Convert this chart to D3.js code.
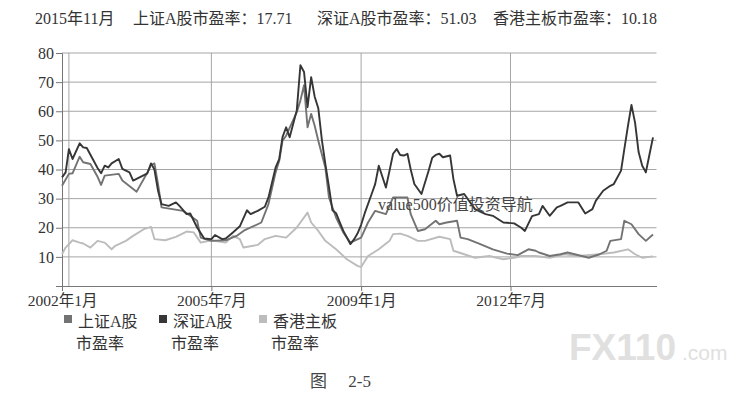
<!DOCTYPE html>
<html>
<head>
<meta charset="utf-8">
<script src="https://cdn.jsdelivr.net/npm/d3@7"></script>
<style>
  body { margin: 0; background: #fff; }
  text { font-family: "Liberation Serif", "Noto Sans CJK SC", serif; }
  text.mark { font-family: "Liberation Sans", Arial, sans-serif; }
</style>
</head>
<body>
<svg id="chart" width="754" height="401"></svg>
<script>
// months after 2002年1月
var shMonth = [0,2,3,5,6,8,10,11,12,16,17,21,24,25,26,27,28,31,34,36,38,39,42,46,49,51,52,56,58,60,61,62,63,66,67,68,69,70,71,72,74,75,77,79,81,84,86,88,91,93,97,98,100,102,105,106,108,111,112,114,117,121,125,128,131,133,134,137,140,142,144,148,151,153,154,157,158,160,162,164,166]
var shPE = [34.4,38.5,38.7,44.4,42.5,41.9,37.5,34.7,37.9,38.5,36.2,32.4,39,41.5,42.1,35,27,26.4,25.8,24.1,22.4,16.6,15.5,15.7,17.2,18.9,19.5,21.8,28.1,39,43,49.9,51.6,59.7,63.7,68.9,54.5,59.1,55,49.9,40.7,30.4,23.5,18.4,14.9,16.6,21.8,25.8,24.7,30.4,30.4,24.7,18.9,19.5,22.4,21.2,21.8,22.4,16.6,16.1,14.6,12.6,11.1,10.6,12.6,12.1,11.5,10.3,10.9,11.5,10.9,9.7,10.9,12.1,15.5,16.1,22.4,21.2,17.8,15.5,17.71]

var szMonth = [0,1,2,3,5,6,7,10,11,12,13,14,16,17,19,20,24,25,26,27,28,30,32,33,35,36,38,40,42,43,45,46,48,50,52,53,55,57,58,60,61,62,63,64,66,67,68,69,70,71,72,73,74,75,76,77,78,79,81,82,83,84,85,87,88,89,91,92,93,94,95,96,97,98,99,101,103,104,105,106,107,109,110,111,113,116,119,121,124,127,129,130,132,134,135,137,139,140,142,144,145,147,149,150,152,154,155,157,158,159,160,161,162,163,164,165,166]
var szPE = [37.3,39,47,43.6,49,47.6,47.4,40.5,38.7,41.3,40.7,42.1,43.6,40.2,39,36.2,38.7,42.1,40,32.7,28.1,27.5,28.7,27.5,24.7,24.9,20.1,16.3,16.1,17.5,16.1,16.3,18.4,20.5,26,24.7,25.8,27.2,30.4,40.7,43.6,51.1,54.5,51.1,60.3,75.8,73.5,61.4,71.7,65,61,50,41.9,34,26,25,22,19,14.4,16,18,21,25,31.6,35,41.3,33.8,39.6,45.4,47,45,44.8,45.4,40,35,31.6,39.6,44,45,45.4,44.2,44.8,36.7,31,31.6,26.4,24.7,24.1,21.8,21.5,20,18.9,24,24.7,27.5,24.1,27,27.5,28.7,28.7,28.7,24.9,26.4,29.3,32.7,34.4,35,39.6,47,55,62.2,56,46,41.3,39,45,51.03]

var hkMonth = [0,1,3,5,6,8,10,12,14,15,18,20,23,25,26,29,32,35,37,39,42,46,48,50,51,55,57,60,63,66,69,70,72,74,77,80,83,84,86,89,92,93,95,97,100,102,106,109,110,113,116,120,124,127,129,133,137,141,145,151,155,159,161,163,166]
var hkPE = [10.9,13.2,15.7,14.9,14.6,13.2,15.5,14.9,12.6,13.8,15.5,17.2,19.5,20.3,16.1,15.7,16.9,18.7,18.4,14.9,15.7,14.9,17.2,16.1,13.2,14.1,16.1,17.2,16.6,20.1,25.2,21.8,18.9,15.5,12.6,9.2,6.9,6.5,10.3,12.6,15.5,17.8,18,17.2,15.5,15.5,16.9,16.1,12.1,10.9,9.7,10.3,9.2,9.7,10.3,10.3,9.7,10.9,10.3,10.9,11.5,12.6,10.9,9.7,10.18]

var seriesNames = [["上证A股", "市盈率"], ["深证A股", "市盈率"], ["香港主板", "市盈率"]]
var seriesColors = ["#737373", "#363636", "#bcbcbc"]
var yTicks = [10, 20, 30, 40, 50, 60, 70, 80]
var xTickMonths = [0, 42, 84, 126]
var titleParts = ["2015年11月", "上证A股市盈率：17.71", "深证A股市盈率：51.03", "香港主板市盈率：10.18"]

var start = new Date(2002, 0, 1)
var toDate = m => d3.timeMonth.offset(start, m)

var svg = d3.select("#chart")

var x = d3.scaleTime()
  .domain([start, toDate(167)])
  .range([62, 656.5])
var y = d3.scaleLinear()
  .domain([0, 80])
  .range([286, 53])

svg.append("g")
  .selectAll("text")
  .data(titleParts)
  .enter()
  .append("text")
  .attr("x", (d, i) => [35, 133, 317, 493][i])
  .attr("y", 24)
  .attr("font-size", 16)
  .attr("fill", "#333")
  .text(d => d)

// horizontal grid
svg.append("g")
  .selectAll("line")
  .data(yTicks)
  .enter()
  .append("line")
  .attr("x1", 62)
  .attr("x2", 656.5)
  .attr("y1", d => y(d))
  .attr("y2", d => y(d))
  .attr("stroke", "#a5a5a5")
  .attr("stroke-width", 1)

// vertical grid (first one sits a bit right of the axis, as in the picture)
svg.append("g")
  .selectAll("line")
  .data([2, 42, 84, 126])
  .enter()
  .append("line")
  .attr("x1", d => x(toDate(d)))
  .attr("x2", d => x(toDate(d)))
  .attr("y1", y(80))
  .attr("y2", y(0))
  .attr("stroke", "#a5a5a5")
  .attr("stroke-width", 1)

var yAxis = svg.append("g")
  .attr("transform", "translate(62,0)")
  .call(d3.axisLeft(y).tickValues(yTicks).tickSize(6).tickPadding(2))
yAxis.select(".domain").attr("stroke", "#777")
yAxis.selectAll(".tick line").attr("stroke", "#777")
yAxis.selectAll("text")
  .attr("font-size", 16)
  .attr("fill", "#333")

var xAxis = svg.append("g")
  .attr("transform", "translate(0,286)")
  .call(d3.axisBottom(x)
    .tickValues(xTickMonths.map(toDate))
    .tickSize(5)
    .tickSizeOuter(0)
    .tickPadding(4)
    .tickFormat(d => d.getFullYear() + "年" + (d.getMonth() + 1) + "月"))
xAxis.select(".domain").attr("stroke", "#777")
xAxis.selectAll(".tick line").attr("stroke", "#777")
xAxis.selectAll("text")
  .attr("font-size", 15.5)
  .attr("fill", "#333")

var line = d3.line()
  .x(d => x(toDate(d[0])))
  .y(d => y(d[1]))

var series = [
  d3.zip(hkMonth, hkPE),
  d3.zip(shMonth, shPE),
  d3.zip(szMonth, szPE)
]
var drawColors = [seriesColors[2], seriesColors[0], seriesColors[1]]

svg.append("g")
  .selectAll("path")
  .data(series)
  .enter()
  .append("path")
  .attr("d", line)
  .attr("fill", "none")
  .attr("stroke", (d, i) => drawColors[i])
  .attr("stroke-width", 1.9)
  .attr("stroke-linejoin", "round")

// watermark inside the plot
svg.append("text")
  .attr("x", 378)
  .attr("y", 210)
  .attr("font-size", 16)
  .attr("fill", "#444")
  .text("value500价值投资导航")

// legend
var legend = svg.append("g")
  .selectAll("g")
  .data(seriesNames)
  .enter()
  .append("g")
  .attr("transform", (d, i) => "translate(" + [64, 159, 259][i] + ",0)")

legend.append("rect")
  .attr("x", 0)
  .attr("y", 315)
  .attr("width", 8)
  .attr("height", 8)
  .attr("fill", (d, i) => seriesColors[i])

legend.append("text")
  .attr("x", 14)
  .attr("y", 327)
  .attr("font-size", 16)
  .attr("fill", "#333")
  .text(d => d[0])

legend.append("text")
  .attr("x", 36)
  .attr("y", 349)
  .attr("font-size", 16)
  .attr("fill", "#333")
  .attr("text-anchor", "middle")
  .text(d => d[1])

// caption and site mark
svg.append("text")
  .attr("x", 310)
  .attr("y", 387)
  .attr("font-size", 17)
  .attr("fill", "#444")
  .text("图　 2-5")

svg.append("text")
  .attr("class", "mark")
  .attr("x", 569)
  .attr("y", 360)
  .attr("font-weight", "bold")
  .attr("font-size", 37)
  .attr("fill", "#e0e0e0")
  .text("FX110")

svg.append("text")
  .attr("class", "mark")
  .attr("x", 682)
  .attr("y", 360)
  .attr("font-size", 21)
  .attr("fill", "#e0e0e0")
  .text(".com")
</script>
</body>
</html>
